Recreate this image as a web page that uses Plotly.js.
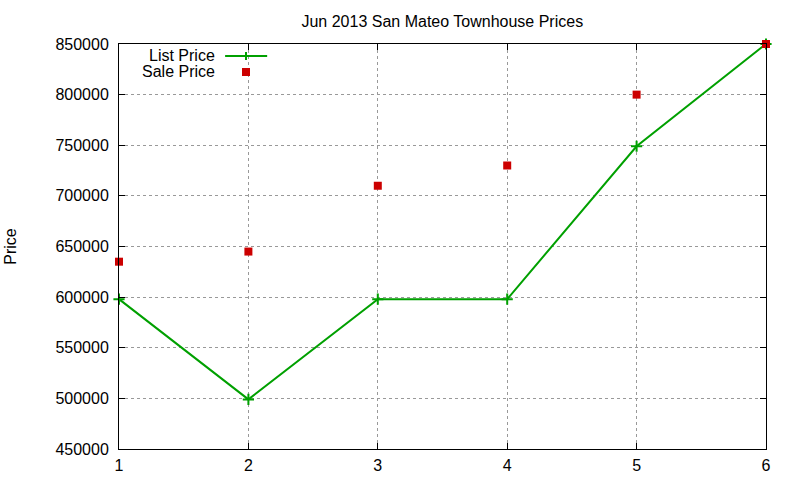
<!DOCTYPE html>
<html>
<head>
<meta charset="utf-8">
<script src="https://cdn.plot.ly/plotly-3.0.1.min.js"></script>
<style>
  html, body { margin: 0; padding: 0; background: #fff; }
  #chart { width: 800px; height: 480px; }
</style>
</head>
<body>
<div id="chart"></div>
<script>
// month index within the period
const months = [1, 2, 3, 4, 5, 6];
const listPrice = [598000, 499000, 598000, 598000, 749000, 850000];
const salePrice = [635000, 645000, 710000, 730000, 800000, 850000];
const seriesNames = ['List Price', 'Sale Price'];

const GREEN = '#00a000';
const RED = '#cc0000';
const FONT = 'Liberation Sans, Arial, sans-serif';

const traces = [
  {
    x: months, y: listPrice, name: seriesNames[0], type: 'scatter', mode: 'lines+markers',
    line: { color: GREEN, width: 2 },
    marker: { symbol: 'cross-thin', size: 8, color: GREEN, line: { color: GREEN, width: 2 } },
    cliponaxis: false, showlegend: false,
  },
  {
    x: months, y: salePrice, name: seriesNames[1], type: 'scatter', mode: 'markers',
    marker: { symbol: 'square', size: 8, color: RED },
    cliponaxis: false, showlegend: false,
  },
];

const axisBase = {
  showline: true, linecolor: '#000', linewidth: 1, mirror: 'ticks',
  ticks: 'inside', ticklen: 6, tickcolor: '#000', tickwidth: 1,
  showgrid: true, gridcolor: '#999', griddash: 'dot', gridwidth: 1,
  zeroline: false, tickfont: { family: FONT, size: 16, color: '#000' },
};

// hand-built legend, gnuplot style: text on the left, sample on the right
const legX0 = 0.164, legX1 = 0.229, legXc = 0.1963, legTextX = 0.1515;
const legY = [0.9704, 0.9309];
const px = 1 / 647, py = 1 / 405;

const layout = {
  width: 800, height: 480,
  paper_bgcolor: '#fff', plot_bgcolor: '#fff',
  font: { family: FONT, size: 16, color: '#000' },
  margin: { l: 119, r: 34, t: 44, b: 31 },
  showlegend: false,
  title: { text: 'Jun 2013 San Mateo Townhouse Prices', font: { family: FONT, size: 16, color: '#000' },
    x: 0.5529, xanchor: 'center', y: 0.956, yanchor: 'middle' },
  xaxis: { ...axisBase, range: [1, 6], dtick: 1, tick0: 1, ticklabelstandoff: 2 },
  yaxis: { ...axisBase, range: [450000, 850000], dtick: 50000, tickformat: 'd', ticklabelstandoff: 6,
    title: { text: 'Price', font: { family: FONT, size: 16, color: '#000' }, standoff: 34 } },
  annotations: seriesNames.map((n, i) => ({
    text: n, xref: 'paper', yref: 'paper', x: legTextX, y: legY[i],
    xanchor: 'right', yanchor: 'middle', showarrow: false, font: { family: FONT, size: 16, color: '#000' },
  })),
  shapes: [
    { type: 'line', xref: 'paper', yref: 'paper', x0: legX0, x1: legX1, y0: legY[0], y1: legY[0], line: { color: GREEN, width: 2 } },
    { type: 'line', xref: 'paper', yref: 'paper', x0: legXc, x1: legXc, y0: legY[0] - 4 * py, y1: legY[0] + 4 * py, line: { color: GREEN, width: 2 } },
    { type: 'rect', xref: 'paper', yref: 'paper', x0: legXc - 4 * px, x1: legXc + 4 * px, y0: legY[1] - 4 * py, y1: legY[1] + 4 * py, fillcolor: RED, line: { width: 0 } },
  ],
};

Plotly.newPlot('chart', traces, layout, { displayModeBar: false, staticPlot: true });
</script>
</body>
</html>
